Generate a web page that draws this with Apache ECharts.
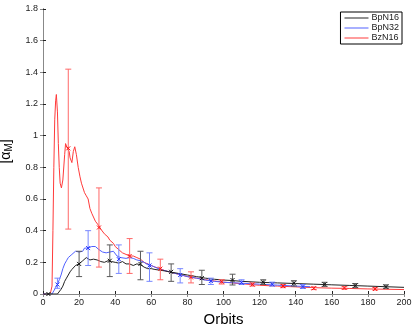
<!DOCTYPE html>
<html>
<head>
<meta charset="utf-8">
<title>alpha M</title>
<script src="https://cdn.jsdelivr.net/npm/echarts@6/dist/echarts.min.js"></script>
<style>
html,body{margin:0;padding:0;background:#fff;}
#main{width:415px;height:324px;}
</style>
</head>
<body>
<div id="main"></div>
<script>
// lines (orbits, alpha_M)
var bpN16X = [0,8,9,10,11,12,13,14,15,16,17,18,19,20,21,22,23,24,25,26,27,28,29,30,32,34,36,38,40,42,44,46,48,50,52,54,56,58,60,62,65,68,70,75,80,85,90,95,100,105,110,120,130,140,150,160,170,180,190,200];
var bpN16Y = [0,0,0.01,0.03,0.05,0.08,0.1,0.12,0.14,0.155,0.165,0.18,0.185,0.19,0.2,0.21,0.22,0.23,0.225,0.215,0.21,0.22,0.225,0.215,0.205,0.2,0.21,0.205,0.2,0.195,0.205,0.19,0.19,0.18,0.19,0.185,0.17,0.16,0.16,0.155,0.15,0.145,0.14,0.13,0.12,0.11,0.1,0.093,0.088,0.085,0.08,0.074,0.07,0.066,0.062,0.058,0.054,0.05,0.046,0.042];

var bpN32X = [0,5,6,7,8,9,10,11,12,13,14,15,16,17,18,19,20,21,22,23,24,25,26,27,28,29,30,31,32,33,35,37,39,40,41,42,43,44,46,48,50,52,54,56,58,60,62,65,70,75,80,85,90,95,100,110,120,130,140,148];
var bpN32Y = [0,0,0.02,0.04,0.06,0.09,0.12,0.16,0.19,0.21,0.23,0.24,0.25,0.26,0.27,0.27,0.265,0.26,0.27,0.29,0.3,0.29,0.3,0.3,0.295,0.3,0.3,0.28,0.27,0.265,0.26,0.265,0.27,0.26,0.24,0.235,0.23,0.225,0.225,0.23,0.225,0.215,0.21,0.2,0.185,0.18,0.17,0.155,0.14,0.125,0.11,0.1,0.088,0.08,0.074,0.068,0.062,0.056,0.05,0.046];

var bzN16X = [0,4,5,5.5,6,6.5,7,7.4,8,8.5,9,9.5,10.2,11,12,12.5,13,13.5,14,14.5,15,16,16.8,17.6,18.5,19.5,20.5,21.3,22,23,24,25,26,27,28,29,30,31,32,33,34,35,36,37,38,39,40,42,44,46,48,50,52,54,56,58,60,62,65,68,70,75,80,85,90,95,100,105,110,115,120,130,140,150,160,170,180,190,200];
var bzN16Y = [0,0,0.05,0.4,0.8,1.1,1.22,1.26,1.15,0.95,0.8,0.7,0.67,0.72,0.88,0.95,0.96,0.92,0.93,0.9,0.86,0.83,0.9,0.93,0.88,0.8,0.74,0.7,0.69,0.64,0.62,0.6,0.54,0.51,0.52,0.46,0.45,0.43,0.41,0.4,0.38,0.37,0.36,0.34,0.35,0.32,0.3,0.28,0.26,0.25,0.24,0.24,0.23,0.22,0.2,0.19,0.18,0.17,0.16,0.145,0.14,0.125,0.11,0.1,0.09,0.082,0.075,0.07,0.065,0.06,0.055,0.05,0.045,0.04,0.037,0.035,0.032,0.03,0.028];

// error bars: x, centre, low, high
var bpN16ErrX = [3,20,37,54,71,88,105,122,139,156,173,190];
var bpN16ErrC = [0,0.19,0.21,0.19,0.14,0.1,0.088,0.074,0.068,0.061,0.053,0.046];
var bpN16ErrLo = [0,0.11,0.11,0.09,0.08,0.06,0.057,0.06,0.05,0.048,0.04,0.036];
var bpN16ErrHi = [0,0.27,0.31,0.27,0.19,0.15,0.125,0.09,0.084,0.074,0.066,0.058];

var bpN32ErrX = [8,25,42,59,76,93,110,127,144];
var bpN32ErrC = [0.06,0.29,0.22,0.18,0.12,0.082,0.072,0.061,0.047];
var bpN32ErrLo = [0.036,0.18,0.13,0.08,0.07,0.06,0.06,0.05,0.035];
var bpN32ErrHi = [0.1,0.4,0.31,0.26,0.16,0.1,0.09,0.075,0.06];

var bzN16ErrX = [14,31,48,65,82,99,116,133,150,167,184];
var bzN16ErrC = [0.92,0.42,0.24,0.16,0.105,0.078,0.06,0.05,0.036,0.038,0.032];
var bzN16ErrLo = [0.41,0.17,0.13,0.09,0.07,0.063,0.05,0.04,0.028,0.03,0.025];
var bzN16ErrHi = [1.42,0.67,0.35,0.22,0.14,0.09,0.07,0.06,0.045,0.046,0.04];

function pairs(xs, ys) {
  return xs.map(function (x, i) { return [x, ys[i]]; });
}
function errData(xs, c, lo, hi) {
  return xs.map(function (x, i) { return [x, c[i], lo[i], hi[i]]; });
}

// vertical bar + caps + little x at the centre
function errRender(color, mkc) {
  return function (params, api) {
    var x = api.value(0);
    var pc = api.coord([x, api.value(1)]);
    var pl = api.coord([x, api.value(2)]);
    var ph = api.coord([x, api.value(3)]);
    var w = 3, m = 2;
    var st = { stroke: color, lineWidth: 1 };
    return {
      type: 'group',
      children: [
        { type: 'line', shape: { x1: pc[0], y1: pl[1], x2: pc[0], y2: ph[1] }, style: st },
        { type: 'line', shape: { x1: pc[0] - w, y1: pl[1], x2: pc[0] + w, y2: pl[1] }, style: st },
        { type: 'line', shape: { x1: pc[0] - w, y1: ph[1], x2: pc[0] + w, y2: ph[1] }, style: st },
        { type: 'line', shape: { x1: pc[0] - m, y1: pc[1] - m, x2: pc[0] + m, y2: pc[1] + m }, style: { stroke: mkc, lineWidth: 1 } },
        { type: 'line', shape: { x1: pc[0] - m, y1: pc[1] + m, x2: pc[0] + m, y2: pc[1] - m }, style: { stroke: mkc, lineWidth: 1 } }
      ]
    };
  };
}

var chart = echarts.init(document.getElementById('main'));
var tick = { color: '#222', fontSize: 9, fontFamily: 'Liberation Sans' };

var option = {
  animation: false,
  grid: { left: 43, right: 11, top: 9, bottom: 30, outerBoundsMode: 'none', containLabel: false },
  legend: {
    data: ['BpN16', 'BpN32', 'BzN16'],
    orient: 'vertical',
    right: 13,
    top: 12,
    icon: 'rect',
    itemWidth: 24,
    itemHeight: 1,
    itemGap: 0,
    padding: [1, 3, 1, 4],
    borderColor: '#000',
    borderWidth: 1,
    borderRadius: 0,
    backgroundColor: '#fff',
    textStyle: { fontSize: 9, lineHeight: 10, color: '#222', fontFamily: 'Liberation Sans', padding: [0, 0, 0, -2] }
  },
  xAxis: [{
    type: 'value', min: 0, max: 200, interval: 20,
    name: 'Orbits', nameLocation: 'middle', nameGap: 12,
    nameTextStyle: { fontSize: 15, color: '#000', fontFamily: 'Liberation Sans' },
    axisLine: { lineStyle: { color: '#222' } },
    axisTick: { inside: true, length: 3, lineStyle: { color: '#222' } },
    axisLabel: Object.assign({ margin: 4 }, tick),
    splitLine: { show: false }
  }, {
    type: 'value', min: 0, max: 200, interval: 20, position: 'top',
    axisLine: { lineStyle: { color: '#888' } },
    axisTick: { inside: true, length: 3, lineStyle: { color: '#888' } },
    axisLabel: { show: false },
    splitLine: { show: false }
  }],
  yAxis: [{
    type: 'value', min: 0, max: 1.8, interval: 0.2,
    name: '[α{sub|M}]', nameLocation: 'middle', nameGap: 25, nameRotate: 90,
    nameTextStyle: {
      fontSize: 14, color: '#000', fontFamily: 'Liberation Sans',
      rich: { sub: { fontSize: 10, verticalAlign: 'bottom', padding: [6, 0, 0, 0] } }
    },
    axisLine: { lineStyle: { color: '#222' } },
    axisTick: { inside: true, length: 3, lineStyle: { color: '#222' } },
    axisLabel: Object.assign({ margin: 5 }, tick),
    splitLine: { show: false }
  }, {
    type: 'value', min: 0, max: 1.8, interval: 0.2, position: 'right',
    axisLine: { show: true, lineStyle: { color: '#888' } },
    axisTick: { show: true, inside: true, length: 3, lineStyle: { color: '#888' } },
    axisLabel: { show: false },
    splitLine: { show: false }
  }],
  series: [
    { name: 'BzN16', type: 'line', data: pairs(bzN16X, bzN16Y), showSymbol: false, color: '#ff3a3a', lineStyle: { width: 1 }, z: 3 },
    { name: 'BpN32', type: 'line', data: pairs(bpN32X, bpN32Y), showSymbol: false, color: '#5060ff', lineStyle: { width: 1 }, z: 3 },
    { name: 'BpN16', type: 'line', data: pairs(bpN16X, bpN16Y), showSymbol: false, color: '#222', lineStyle: { width: 1 }, z: 3 },
    { name: 'errBz', type: 'custom', renderItem: errRender('#ff6868', '#ff1010'), data: errData(bzN16ErrX, bzN16ErrC, bzN16ErrLo, bzN16ErrHi), z: 4 },
    { name: 'errBp32', type: 'custom', renderItem: errRender('#7888ff', '#2030ff'), data: errData(bpN32ErrX, bpN32ErrC, bpN32ErrLo, bpN32ErrHi), z: 4 },
    { name: 'errBp16', type: 'custom', renderItem: errRender('#5a5a5a', '#111'), data: errData(bpN16ErrX, bpN16ErrC, bpN16ErrLo, bpN16ErrHi), z: 4 }
  ]
};
chart.setOption(option);
</script>
</body>
</html>
